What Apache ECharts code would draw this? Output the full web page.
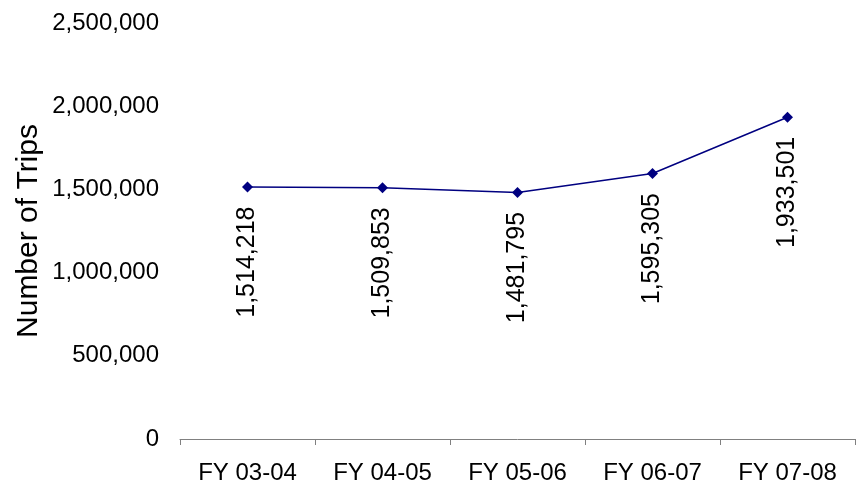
<!DOCTYPE html>
<html><head><meta charset="utf-8">
<script src="https://cdn.jsdelivr.net/npm/echarts@6/dist/echarts.min.js"></script>
<style>html,body{margin:0;padding:0;background:#fff}#c{width:862px;height:493px}</style>
</head><body><div id="c"></div>
<script>
const categories = ["FY 03-04", "FY 04-05", "FY 05-06", "FY 06-07", "FY 07-08"];
const trips = [1514218, 1509853, 1481795, 1595305, 1933501];
const yTicks = [0, 500000, 1000000, 1500000, 2000000, 2500000];
const fmt = v => v.toLocaleString('en-US');
const chart = echarts.init(document.getElementById('c'), null, {renderer: 'canvas'});
chart.setOption({
  animation: false,
  backgroundColor: '#ffffff',
  textStyle: {fontFamily: 'Liberation Sans, Arial, sans-serif'},
  grid: {left: 180, right: 7, top: 23, bottom: 54, containLabel: false, outerBoundsMode: 'none'},
  xAxis: {
    type: 'category', data: categories, boundaryGap: true,
    axisLine: {lineStyle: {color: '#808080', width: 1}},
    axisTick: {show: true, alignWithLabel: false, length: 6, lineStyle: {color: '#808080'}},
    axisLabel: {color: '#000', fontSize: 24, margin: 22, fontFamily: 'Liberation Sans'}
  },
  yAxis: {
    type: 'value', min: yTicks[0], max: yTicks[yTicks.length - 1], interval: 500000,
    name: 'Number of Trips', nameLocation: 'middle', nameGap: 136, nameRotate: 90,
    nameMoveOverlap: false,
    nameTextStyle: {color: '#000', fontSize: 30, fontFamily: 'Liberation Sans'},
    axisLine: {show: false}, axisTick: {show: false}, splitLine: {show: false},
    axisLabel: {color: '#000', fontSize: 24, margin: 21, fontFamily: 'Liberation Sans', formatter: v => fmt(v)}
  },
  series: [{
    type: 'line', data: trips,
    symbol: 'diamond', symbolSize: 11,
    itemStyle: {color: '#000080'},
    lineStyle: {color: '#000080', width: 1.5},
    label: {
      show: true, position: 'bottom', distance: 14, rotate: 90,
      align: 'right', verticalAlign: 'middle',
      color: '#000', fontSize: 25, fontFamily: 'Liberation Sans',
      formatter: p => fmt(p.value)
    }
  }]
});
</script></body></html>
